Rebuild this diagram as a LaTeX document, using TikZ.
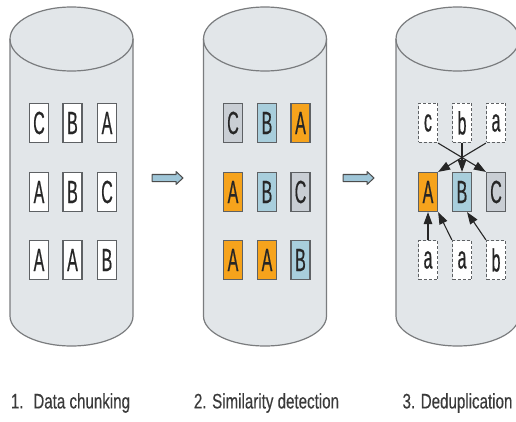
\documentclass[tikz,border=0pt]{standalone}
\usepackage{fontspec}
\setmainfont{Liberation Sans}
\newfontfamily\labfont[FakeStretch=0.72,FakeBold=0.3]{Liberation Sans}
\newfontfamily\boxfont[FakeStretch=0.5,FakeBold=0.4]{Liberation Sans}
\usetikzlibrary{arrows.meta,calc}
\definecolor{cylfill}{HTML}{E2E6E9}
\definecolor{cyledge}{HTML}{7A7C7E}
\definecolor{chorange}{HTML}{F6A31C}
\definecolor{chblue}{HTML}{A8CEDC}
\definecolor{chgray}{HTML}{C9CED4}
\definecolor{boxedge}{HTML}{5E6164}
\definecolor{txtgray}{HTML}{3A3A3A}
\definecolor{arrblue}{HTML}{9FC6D8}
\tikzset{
  chunk/.style={draw=boxedge, line width=1.2pt, fill=white, minimum width=19pt, minimum height=39pt,
    inner sep=0pt, font=\boxfont\fontsize{32}{32}\selectfont, text=black!85},
  orangebox/.style={chunk, fill=chorange},
  bluebox/.style={chunk, fill=chblue},
  graybox/.style={chunk, fill=chgray},
  dupbox/.style={chunk, dashed, dash pattern=on 3pt off 2pt},
  steplabel/.style={font=\labfont\fontsize{21}{21}\selectfont, text=txtgray},
  flowarrow/.style={draw=black!70, fill=arrblue, line width=1pt, line join=round},
  link/.style={draw=black!85, line width=1.1pt, -{Triangle[length=12pt,width=8.5pt]}},
}
\newcommand{\drawcyl}[1]{%
  \fill[cylfill] (#1-61.5,39) -- (#1-61.5,316) arc[start angle=180,end angle=0,x radius=61.5,y radius=30]
     -- (#1+61.5,39) arc[start angle=0,end angle=-180,x radius=61.5,y radius=32] -- cycle;
  \draw[cyledge, line width=1.2pt] (#1-61.5,39) -- (#1-61.5,316) arc[start angle=180,end angle=0,x radius=61.5,y radius=30]
     -- (#1+61.5,39);
  \draw[cyledge, line width=1.2pt] (#1,39) ellipse[x radius=61.5, y radius=32];
}
\newcommand{\flowarr}[1]{%
  \draw[flowarrow] ($(#1)+(0,-3.5)$) -- ++(24,0) -- ++(0,-3) -- ++(7,6.5) -- ++(-7,6.5) -- ++(0,-3) -- ++(-24,0) -- cycle;
}
\begin{document}
\begin{tikzpicture}[x=1pt,y=-1pt]
\clip (0,0) rectangle (516,422);
\fill[white] (0,0) rectangle (516,422);
\drawcyl{71.5}
\drawcyl{265}
\drawcyl{457.5}

% cylinder 1
\node[chunk] (c1r1a) at (39,123) {C};
\node[chunk] (c1r1b) at (72.5,123) {B};
\node[chunk] (c1r1c) at (107,123) {A};
\node[chunk] (c1r2a) at (39,192) {A};
\node[chunk] (c1r2b) at (72.5,192) {B};
\node[chunk] (c1r2c) at (107,192) {C};
\node[chunk] (c1r3a) at (39,260) {A};
\node[chunk] (c1r3b) at (72.5,260) {A};
\node[chunk] (c1r3c) at (107,260) {B};

% cylinder 2
\node[graybox] (c2r1a) at (233,123) {C};
\node[bluebox] (c2r1b) at (267,123) {B};
\node[orangebox] (c2r1c) at (300.5,123) {A};
\node[orangebox] (c2r2a) at (233,192) {A};
\node[bluebox] (c2r2b) at (267,192) {B};
\node[graybox] (c2r2c) at (300.5,192) {C};
\node[orangebox] (c2r3a) at (233,260) {A};
\node[orangebox] (c2r3b) at (267,260) {A};
\node[bluebox] (c2r3c) at (300.5,260) {B};

% cylinder 3
\node[dupbox] (dc) at (428,123) {c};
\node[dupbox] (db) at (462,123) {b};
\node[dupbox] (da) at (496,123) {a};
\node[orangebox] (uA) at (428,192) {A};
\node[bluebox] (uB) at (462,192) {B};
\node[graybox] (uC) at (496,192) {C};
\node[dupbox] (la1) at (428,260) {a};
\node[dupbox] (la2) at (462,260) {a};
\node[dupbox] (lb) at (496,260) {b};

\draw[link] (dc.south east) -- (uC.north west);
\draw[link] (da.south west) -- (uA.north east);
\draw[link] (db.south) -- (uB.north);
\draw[link] (la1.north) -- (uA.south);
\draw[link] (la2.north west) -- (uA.south east);
\draw[link] (lb.north west) -- ($(uB.south)!0.5!(uB.south east)$);

% flow arrows
\coordinate (f1) at (152,178);
\coordinate (f2) at (343,178);
\flowarr{f1}
\flowarr{f2}

% labels
\node[steplabel] (l1) at (70.5,403) {1.~ Data chunking};
\node[steplabel] (l2) at (266.5,403) {2. Similarity detection};
\node[steplabel] (l3) at (457.5,403) {3. Deduplication};
\end{tikzpicture}
\end{document}
